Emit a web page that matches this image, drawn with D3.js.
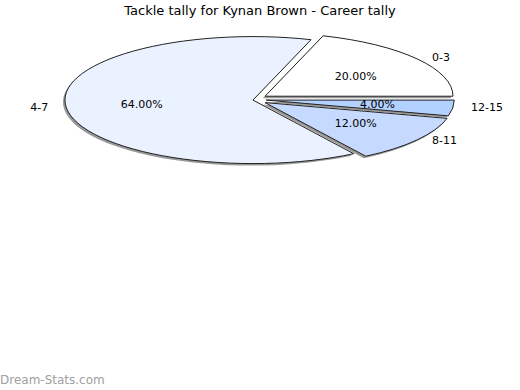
<!DOCTYPE html>
<html>
<head>
<meta charset="utf-8">
<script src="https://cdn.jsdelivr.net/npm/d3@7"></script>
<style>
  body { margin: 0; background: #fff; }
  text { font-family: "DejaVu Sans", sans-serif; }
</style>
</head>
<body>
<svg id="chart" width="520" height="390"></svg>
<script>
const categories = ["0-3", "4-7", "8-11", "12-15"];
const shares = [20, 64, 12, 4];
const colors = ["#ffffff", "#eaf1ff", "#c6d9ff", "#b3d1ff"];

const W = 520, H = 390;
const cx = 259.6, cy = 99.4;
const rx = 188, ry = 63.5;
const k = ry / rx;
const explode = 6.7;

const svg = d3.select("#chart");

svg.append("text")
    .attr("x", W / 2).attr("y", 15)
    .attr("text-anchor", "middle")
    .attr("font-size", 13)
    .text("Tackle tally for Kynan Brown - Career tally");

// counter-clockwise from 3 o'clock, like the original
const pie = d3.pie().sort(null)
    .startAngle(Math.PI / 2)
    .endAngle(Math.PI / 2 - 2 * Math.PI);
const arcs = pie(shares);
const arc = d3.arc().innerRadius(0).outerRadius(rx);

function mid(d) { return (d.startAngle + d.endAngle) / 2; }
function offset(d) {
    const a = mid(d);
    return [Math.sin(a) * explode, -Math.cos(a) * explode * 2.4 * k];
}

// shadow
const shadow = svg.append("g")
    .attr("transform", `translate(${cx - 2},${cy + 2})`);
shadow.selectAll("path").data(arcs).join("path")
    .attr("transform", d => `translate(${offset(d)}) scale(1,${k})`)
    .attr("d", arc)
    .attr("fill", "#999");

const g = svg.append("g")
    .attr("transform", `translate(${cx},${cy})`);
g.selectAll("path").data(arcs).join("path")
    .attr("transform", d => `translate(${offset(d)}) scale(1,${k})`)
    .attr("d", arc)
    .attr("fill", (d, i) => colors[i])
    .attr("stroke", "#222")
    .attr("stroke-width", 1)
    .attr("vector-effect", "non-scaling-stroke");

// percent labels inside
g.selectAll("text.pct").data(arcs).join("text")
    .classed("pct", true)
    .attr("x", d => Math.sin(mid(d)) * rx * 0.632)
    .attr("y", d => -Math.cos(mid(d)) * ry * 0.64 + 4)
    .attr("text-anchor", "middle")
    .attr("font-size", 11)
    .text(d => d.data.toFixed(2) + "%");

// category labels outside
g.selectAll("text.cat").data(arcs).join("text")
    .classed("cat", true)
    .attr("x", d => Math.sin(mid(d)) * 213)
    .attr("y", d => -Math.cos(mid(d)) * 71 + 3)
    .attr("text-anchor", d => Math.sin(mid(d)) < 0 ? "end" : "start")
    .attr("font-size", 11)
    .text((d, i) => categories[i]);

svg.append("text")
    .attr("x", 0).attr("y", 384)
    .attr("font-size", 12)
    .attr("fill", "#a0a0a0")
    .text("Dream-Stats.com");
</script>
</body>
</html>
